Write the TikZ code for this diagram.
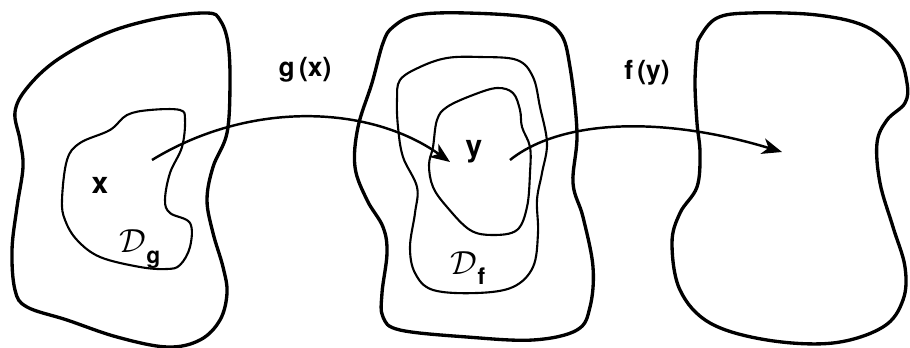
\documentclass[tikz,border=0pt]{standalone}
\usepackage{fontspec}
\setmainfont{TeX Gyre Heros}
\usetikzlibrary{arrows.meta}

\tikzset{
  outer/.style={line width=1.9pt, line join=round},
  inner/.style={line width=1.2pt, line join=round},
  maparrow/.style={line width=1.4pt, -{Stealth[length=4mm,width=3.2mm,inset=1.2mm]}},
  lbl/.style={font=\fontsize{17}{20}\selectfont\bfseries, inner sep=1pt},
  maplbl/.style={font=\fontsize{15}{18}\selectfont\bfseries, inner sep=1pt},
}
\newcommand{\domlbl}[1]{\scalebox{1.9}{$\mathcal{D}$}\raisebox{-6pt}{\fontsize{13}{14}\selectfont\bfseries #1}}

\begin{document}
\begin{tikzpicture}[x=0.02cm, y=-0.02cm]
        \useasboundingbox (0,0) rectangle (910,348);

        % ===== LEFT SET (domain of g) =====
        \draw[outer] plot[smooth cycle, tension=0.6] coordinates {
            (15,112) (27,88) (57,60) (107,33) (160,18) (207,13) (220,20)
            (228,43) (230,83) (227,133) (213,167) (207,200) (213,233)
            (223,267) (227,293) (220,320) (200,340) (167,347) (117,337)
            (67,320) (27,307) (15,290) (12,250) (17,207) (23,167) (20,140)};
        % D_g
        \draw[inner] plot[smooth cycle, tension=0.6] coordinates {
            (62,200) (67,160) (80,143) (110,130) (127,115) (150,110) (180,110)
            (185,120) (182,147) (170,173) (165,200) (170,213) (190,223)
            (190,247) (180,265) (167,269) (140,267) (100,257) (77,240) (65,220)};
        \node[lbl] (x) at (100,185) {x};
        \node[inner sep=1pt] (Dg) at (140,249) {\domlbl{g}};

        % ===== MIDDLE SET =====
        \draw[outer] plot[smooth cycle, tension=0.6] coordinates {
            (393,27) (417,15) (467,13) (533,18) (560,33) (570,67) (577,133)
            (573,183) (583,217) (593,267) (590,307) (577,330) (533,340)
            (467,337) (400,330) (383,317) (382,293) (387,253) (383,227)
            (367,200) (355,167) (358,127) (372,83) (383,43)};
        % D_f
        \draw[inner] plot[smooth cycle, tension=0.6] coordinates {
            (400,80) (420,67) (447,58) (480,57) (517,60) (533,77) (540,107)
            (547,143) (542,173) (537,200) (538,233) (533,267) (513,287)
            (477,293) (433,290) (415,273) (410,247) (415,213) (417,187)
            (403,157) (398,127) (397,100)};
        % image of g
        \draw[inner] plot[smooth cycle, tension=0.6] coordinates {
            (433,147) (437,120) (447,107) (473,95) (497,88) (513,93) (520,110)
            (522,127) (530,147) (530,173) (527,207) (517,230) (493,235)
            (470,230) (447,207) (433,187) (429,165)};
        \node[lbl] (y) at (474,152) {y};
        \node[inner sep=1pt] (Df) at (468,268) {\domlbl{f}};

        % ===== RIGHT SET =====
        \draw[outer] plot[smooth cycle, tension=0.6] coordinates {
            (700,37) (717,18) (750,13) (817,15) (867,27) (897,53) (907,83)
            (905,103) (887,120) (877,143) (880,183) (893,227) (905,267)
            (903,300) (883,327) (833,343) (767,340) (710,323) (680,290)
            (672,243) (680,213) (697,187) (700,153) (697,123) (695,83) (697,50)};

        % ===== MAPS =====
        \coordinate (gfrom) at (152,160);
        \coordinate (gto) at (450,162);
        \coordinate (ffrom) at (510,160);
        \coordinate (fto) at (782,152);
        \draw[maparrow] (gfrom) .. controls (250,100) and (370,105) .. (gto);
        \draw[maparrow] (ffrom) .. controls (560,120) and (660,115) .. (fto);
        \node[maplbl] (g) at (305,70) {g\,(x)};
        \node[maplbl] (f) at (647,73) {f\,(y)};

    \end{tikzpicture}
\end{document}
